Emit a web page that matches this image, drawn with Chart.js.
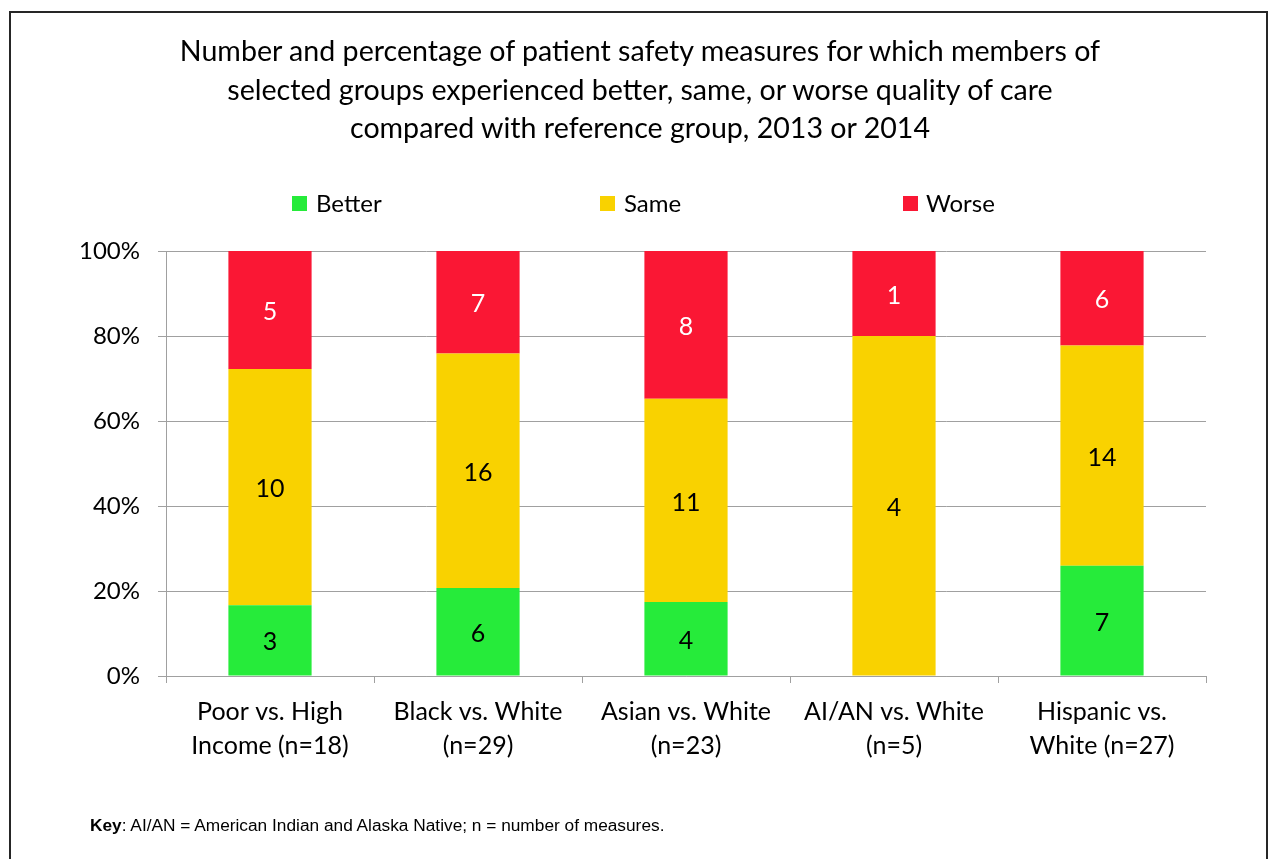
<!DOCTYPE html>
<html>
<head>
<meta charset="utf-8">
<script src="https://cdn.jsdelivr.net/npm/chart.js@4"></script>
<style>
  html, body { margin:0; padding:0; background:#fff; }
  #wrap { position:relative; width:1270px; height:859px; overflow:hidden; font-family:'Lato', sans-serif; }
  #frame { position:absolute; left:9px; top:11px; width:1255px; height:880px; border:2px solid #262626; pointer-events:none; }
  #chart-box { position:absolute; left:0; top:0; width:1270px; height:859px; }
  #title { position:absolute; left:0; width:1280px; top:31px; text-align:center; font-size:28.6px; line-height:38.5px; color:#000; }
  .leg { position:absolute; top:189px; font-size:24px; line-height:28px; color:#000; }
  .leg i { position:absolute; left:0; top:7px; width:15px; height:15px; }
  .leg span { position:absolute; white-space:nowrap; }
  #key { position:absolute; left:90px; top:817px; font-family:'Liberation Sans', Arial, sans-serif; font-size:17.3px; line-height:17px; color:#000; white-space:nowrap; }
</style>
</head>
<body>
<div id="wrap">
  <div id="chart-box"><canvas id="chart"></canvas></div>
  <div id="title">Number and percentage of patient safety measures for which members of<br>selected groups experienced better, same, or worse quality of care<br>compared with reference group, 2013 or 2014</div>
  <div class="leg" style="left:292px"><i style="background:#26EB3A"></i><span style="left:24px">Better</span></div>
  <div class="leg" style="left:600px"><i style="background:#F9D200"></i><span style="left:24px">Same</span></div>
  <div class="leg" style="left:903px"><i style="background:#FA1734"></i><span style="left:23px">Worse</span></div>
  <div id="key"><b>Key</b>: AI/AN = American Indian and Alaska Native; n = number of measures.</div>
  <div id="frame"></div>
</div>
<script>
// ---- data ----
const categories = [
  ['Poor vs. High', 'Income (n=18)'],
  ['Black vs. White', '(n=29)'],
  ['Asian vs. White', '(n=23)'],
  ['AI/AN vs. White', '(n=5)'],
  ['Hispanic vs.', 'White (n=27)']
];
const nMeasures = [18, 29, 23, 5, 27];
const better = [3, 6, 4, 0, 7];
const same   = [10, 16, 11, 4, 14];
const worse  = [5, 7, 8, 1, 6];
const yTicks = [0, 20, 40, 60, 80, 100];

const COLORS = { better:'#26EB3A', same:'#F9D200', worse:'#FA1734' };
const FONT = 'Lato';

const pct = (arr) => arr.map((v, i) => v / nMeasures[i] * 100);

// counts written in the middle of each segment
const countLabels = {
  id: 'countLabels',
  afterDatasetsDraw(chart){
    const ctx = chart.ctx;
    ctx.save();
    ctx.font = '25px ' + FONT;
    ctx.textAlign = 'center';
    ctx.textBaseline = 'middle';
    chart.data.datasets.forEach((ds, di) => {
      const meta = chart.getDatasetMeta(di);
      meta.data.forEach((el, i) => {
        const c = ds.counts[i];
        if(!c) return;
        ctx.fillStyle = ds.labelColor;
        ctx.fillText(String(c), el.x, (el.y + el.base) / 2 + 2);
      });
    });
    ctx.restore();
  }
};

const ds = (label, counts, color, labelColor) => ({
  label, counts, labelColor,
  data: pct(counts),
  backgroundColor: color,
  borderWidth: 0,
  categoryPercentage: 0.8,
  barPercentage: 0.5
});

new Chart(document.getElementById('chart'), {
  type: 'bar',
  data: {
    labels: categories,
    datasets: [
      ds('Better', better, COLORS.better, '#000'),
      ds('Same', same, COLORS.same, '#000'),
      ds('Worse', worse, COLORS.worse, '#fff')
    ]
  },
  plugins: [countLabels],
  options: {
    responsive: true, maintainAspectRatio: false, animation: false,
    layout: { padding: { top: 251, left: 0, right: 64, bottom: 100 } },
    plugins: { legend: { display: false }, title: { display: false }, tooltip: { enabled: false } },
    scales: {
      x: {
        stacked: true,
        afterFit: (s) => { s.height = 83; },
        grid: { display: true, offset: true, drawOnChartArea: false, drawTicks: true, tickLength: 7, color: '#A0A0A0', lineWidth: 1 },
        border: { color: '#A0A0A0', width: 1 },
        ticks: { color: '#000', font: { family: FONT, size: 25, lineHeight: 1.36 }, padding: 12, maxRotation: 0, autoSkip: false }
      },
      y: {
        stacked: true, min: 0, max: 100,
        afterFit: (s) => { s.width = 166; },
        afterBuildTicks: (s) => { s.ticks = yTicks.map(v => ({ value: v })); },
        grid: { color: '#A0A0A0', lineWidth: 1, tickLength: 8 },
        border: { color: '#A0A0A0', width: 1 },
        ticks: { color: '#000', font: { family: FONT, size: 24 }, padding: 18, callback: (v) => v + '%' }
      }
    }
  }
});
</script>
</body>
</html>
